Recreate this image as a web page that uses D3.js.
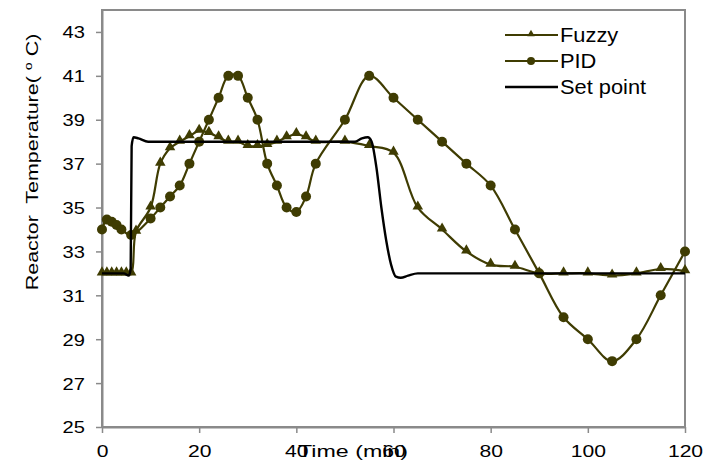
<!DOCTYPE html>
<html>
<head>
<meta charset="utf-8">
<script src="https://cdn.jsdelivr.net/npm/d3@7/dist/d3.min.js"></script>
<style>
  html, body { margin: 0; padding: 0; background: #fff; }
  svg { display: block; font-family: "Liberation Sans", Arial, sans-serif; }
  text { white-space: pre; }
</style>
</head>
<body>
<svg id="chart" width="704" height="465"></svg>
<script>
// Reactor temperature response: fuzzy controller vs PID vs set point
const fuzzyTime  = [0, 1, 2, 3, 4, 5, 6, 7, 10, 12, 14, 16, 18, 20, 22, 24, 26, 28, 30, 32, 34, 36, 38, 40, 42, 44, 50, 55, 60, 65, 70, 75, 80, 85, 90, 95, 100, 105, 110, 115, 120];
const fuzzyTemp  = [32, 32, 32, 32, 32, 32, 32, 33.9, 35, 37, 37.7, 38, 38.25, 38.5, 38.4, 38.2, 38, 38, 37.8, 37.8, 37.85, 38, 38.2, 38.35, 38.2, 38, 38, 37.8, 37.5, 35, 34, 33, 32.4, 32.3, 32, 32, 32, 31.9, 32, 32.2, 32.1];

const pidTime    = [0, 1, 2, 3, 4, 6, 10, 12, 14, 16, 18, 20, 22, 24, 26, 28, 30, 32, 34, 36, 38, 40, 42, 44, 50, 55, 60, 65, 70, 75, 80, 85, 90, 95, 100, 105, 110, 115, 120];
const pidTemp    = [34, 34.45, 34.35, 34.2, 34, 33.75, 34.5, 35, 35.5, 36, 37, 38, 39, 40, 41, 41, 40, 39, 37, 36, 35, 34.8, 35.5, 37, 39, 41, 40, 39, 38, 37, 36, 34, 32, 30, 29, 28, 29, 31, 33];

const setTime    = [0, 4.5, 5.5, 5.9, 6.1, 6.5, 7.5, 9.5, 52, 53.5, 54.7, 55.5, 56.5, 57.5, 58.5, 59.5, 60.5, 61.5, 63, 65, 120];
const setTemp    = [32, 32, 31.9, 32.2, 37.8, 38.2, 38.15, 38, 38, 38.15, 38.2, 38, 36.8, 35, 33.5, 32.4, 31.85, 31.8, 31.9, 32, 32];

const yTicks = [25, 27, 29, 31, 33, 35, 37, 39, 41, 43];
const xTicks = [0, 20, 40, 60, 80, 100, 120];
const seriesNames = ["Fuzzy", "PID", "Set point"];

const olive = "#3f3c02";
const axisGrey = "#8a8a8a";

const svg = d3.select("#chart");
const plot = { left: 102, right: 685, top: 10, bottom: 427 };

const x = d3.scaleLinear().domain([0, 120]).range([plot.left, plot.right]);
const y = d3.scaleLinear().domain([25, 44]).range([plot.bottom, plot.top]);

// plot frame
svg.append("rect")
  .attr("x", plot.left).attr("y", plot.top)
  .attr("width", plot.right - plot.left).attr("height", plot.bottom - plot.top)
  .attr("fill", "none").attr("stroke", axisGrey).attr("stroke-width", 2);

// axes
const yAxis = svg.append("g")
  .attr("transform", `translate(${plot.left},0)`)
  .call(d3.axisLeft(y).tickValues(yTicks).tickSize(6).tickSizeOuter(0));
const xAxis = svg.append("g")
  .attr("transform", `translate(0,${plot.bottom})`)
  .call(d3.axisBottom(x).tickValues(xTicks).tickSize(6).tickSizeOuter(0));

[yAxis, xAxis].forEach(g => {
  g.select(".domain").attr("stroke", axisGrey).attr("stroke-width", 2);
  g.selectAll(".tick line").attr("stroke", axisGrey).attr("stroke-width", 1.5);
  g.selectAll(".tick text")
    .attr("fill", "#000")
    .attr("font-family", "'Liberation Sans', Arial, sans-serif")
    .attr("font-size", 16.5);
});
yAxis.selectAll(".tick text")
  .attr("x", null).attr("dy", "0.36em")
  .attr("transform", "translate(-17,0) scale(1.22,1)");
xAxis.selectAll(".tick text")
  .attr("y", null).attr("dy", null)
  .attr("transform", "translate(0,30) scale(1.28,1)");

// axis titles
svg.append("text")
  .attr("x", 353).attr("y", 457)
  .attr("text-anchor", "middle")
  .attr("font-size", 16.5)
  .attr("textLength", 110).attr("lengthAdjust", "spacingAndGlyphs")
  .text("Time (min)");

const yTitle = svg.append("text")
  .attr("transform", "translate(38,162) rotate(-90) scale(1.3,1)")
  .attr("text-anchor", "middle")
  .attr("font-size", 16.5);
yTitle.append("tspan").text("Reactor  Temperature( ");
yTitle.append("tspan").attr("font-size", 11).attr("dy", -6).text("o");
yTitle.append("tspan").attr("dy", 6).text(" C)");

// series
const fuzzyData = fuzzyTime.map((t, i) => [t, fuzzyTemp[i]]);
const pidData = pidTime.map((t, i) => [t, pidTemp[i]]);
const setData = setTime.map((t, i) => [t, setTemp[i]]);

const smooth = d3.line().x(d => x(d[0])).y(d => y(d[1])).curve(d3.curveCatmullRom.alpha(0.5));
const mono = d3.line().x(d => x(d[0])).y(d => y(d[1])).curve(d3.curveMonotoneX);

const tri = d3.symbol().type(d3.symbolTriangle).size(48);

svg.append("path").datum(fuzzyData)
  .attr("d", smooth).attr("fill", "none").attr("stroke", olive).attr("stroke-width", 2.2);
svg.append("g").selectAll("path").data(fuzzyData).join("path")
  .attr("d", tri)
  .attr("transform", d => `translate(${x(d[0])},${y(d[1]) - 1})`)
  .attr("fill", olive);

svg.append("path").datum(pidData)
  .attr("d", smooth).attr("fill", "none").attr("stroke", olive).attr("stroke-width", 2.2);
svg.append("g").selectAll("circle").data(pidData).join("circle")
  .attr("cx", d => x(d[0])).attr("cy", d => y(d[1])).attr("r", 5)
  .attr("fill", olive);

svg.append("path").datum(setData)
  .attr("d", mono).attr("fill", "none").attr("stroke", "#000").attr("stroke-width", 2.4);

// legend
const legend = svg.append("g");
const legendY = [35, 61, 87];
seriesNames.forEach((name, i) => {
  const row = legend.append("g").attr("transform", `translate(0,${legendY[i]})`);
  row.append("line")
    .attr("x1", 505).attr("x2", 558).attr("y1", 0).attr("y2", 0)
    .attr("stroke", i === 2 ? "#000" : olive).attr("stroke-width", i === 2 ? 2.4 : 2.2);
  if (i === 0) {
    row.append("path").attr("d", d3.symbol().type(d3.symbolTriangle).size(24))
      .attr("transform", "translate(531,-1)").attr("fill", olive);
  } else if (i === 1) {
    row.append("circle").attr("cx", 531).attr("cy", 0).attr("r", 4).attr("fill", olive);
  }
  row.append("text")
    .attr("transform", "translate(560,7) scale(1.12,1)")
    .attr("font-size", 19.5)
    .text(name);
});
</script>
</body>
</html>
